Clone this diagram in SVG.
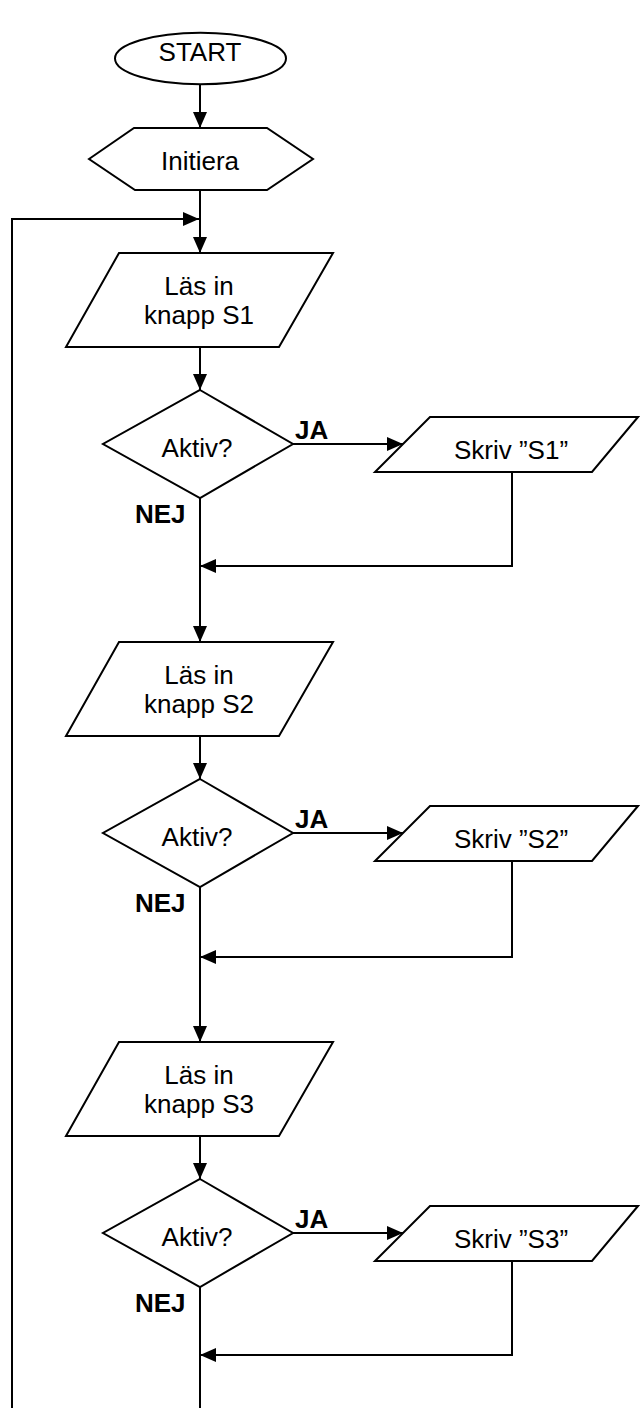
<svg xmlns="http://www.w3.org/2000/svg" width="640" height="1408" viewBox="0 0 640 1408">
<style>
.s{fill:#fff;stroke:#000;stroke-width:2;stroke-linejoin:miter}
.c{fill:none;stroke:#000;stroke-width:2}
.t{font-family:"Liberation Sans",Arial,sans-serif;font-size:26px;fill:#000;text-anchor:middle}
.b{font-family:"Liberation Sans",Arial,sans-serif;font-size:26px;font-weight:bold;fill:#000}
</style>
<defs>
<marker id="ah" viewBox="0 0 16 14" refX="16" refY="7" markerWidth="16" markerHeight="14" markerUnits="userSpaceOnUse" orient="auto">
<path d="M0,0 L16,7 L0,14 z" fill="#000"/>
</marker>
</defs>
<rect width="640" height="1408" fill="#fff"/>
<g id="connectors">
<path class="c" d="M200,84 V128" marker-end="url(#ah)"/>
<path class="c" d="M200,190 V253" marker-end="url(#ah)"/>
<path class="c" d="M12,1408 V219 H199" marker-end="url(#ah)"/>
<path class="c" d="M200,347 V390" marker-end="url(#ah)"/>
<path class="c" d="M293,444 H403" marker-end="url(#ah)"/>
<path class="c" d="M512,472 V566 H200" marker-end="url(#ah)"/>
<path class="c" d="M200,498 V642" marker-end="url(#ah)"/>
<path class="c" d="M200,736 V779" marker-end="url(#ah)"/>
<path class="c" d="M293,833 H403" marker-end="url(#ah)"/>
<path class="c" d="M512,861 V957 H200" marker-end="url(#ah)"/>
<path class="c" d="M200,887 V1042" marker-end="url(#ah)"/>
<path class="c" d="M200,1136 V1179" marker-end="url(#ah)"/>
<path class="c" d="M293,1233 H403" marker-end="url(#ah)"/>
<path class="c" d="M512,1261 V1355 H200" marker-end="url(#ah)"/>
<path class="c" d="M200,1287 V1408"/>
</g>
<g id="start">
<ellipse class="s" cx="200.5" cy="58.5" rx="85.5" ry="25.8"/>
<text class="t" x="200" y="61">START</text>
</g>
<g id="initiera">
<polygon class="s" points="89,159 134,128 267,128 313,159 267,190 135,190"/>
<text class="t" x="200" y="170">Initiera</text>
</g>
<g id="las1">
<polygon class="s" points="119,253 333,253 279,347 66,347"/>
<text class="t" x="199" y="295">Läs in</text>
<text class="t" x="199" y="324">knapp S1</text>
</g>
<g id="aktiv1">
<polygon class="s" points="200,390 293,444 200,498 103,444"/>
<text class="t" x="197" y="457">Aktiv?</text>
<text class="b" x="295" y="439">JA</text>
<text class="b" x="135" y="523">NEJ</text>
</g>
<g id="skriv1">
<polygon class="s" points="430,417 638,417 592,472 375,472"/>
<text class="t" x="511" y="459">Skriv ”S1”</text>
</g>
<g id="las2">
<polygon class="s" points="119,642 333,642 279,736 66,736"/>
<text class="t" x="199" y="684">Läs in</text>
<text class="t" x="199" y="713">knapp S2</text>
</g>
<g id="aktiv2">
<polygon class="s" points="200,779 293,833 200,887 103,833"/>
<text class="t" x="197" y="846">Aktiv?</text>
<text class="b" x="295" y="828">JA</text>
<text class="b" x="135" y="912">NEJ</text>
</g>
<g id="skriv2">
<polygon class="s" points="430,806 638,806 592,861 375,861"/>
<text class="t" x="511" y="848">Skriv ”S2”</text>
</g>
<g id="las3">
<polygon class="s" points="119,1042 333,1042 279,1136 66,1136"/>
<text class="t" x="199" y="1084">Läs in</text>
<text class="t" x="199" y="1113">knapp S3</text>
</g>
<g id="aktiv3">
<polygon class="s" points="200,1179 293,1233 200,1287 103,1233"/>
<text class="t" x="197" y="1246">Aktiv?</text>
<text class="b" x="295" y="1228">JA</text>
<text class="b" x="135" y="1312">NEJ</text>
</g>
<g id="skriv3">
<polygon class="s" points="430,1206 638,1206 592,1261 375,1261"/>
<text class="t" x="511" y="1248">Skriv ”S3”</text>
</g>
</svg>
